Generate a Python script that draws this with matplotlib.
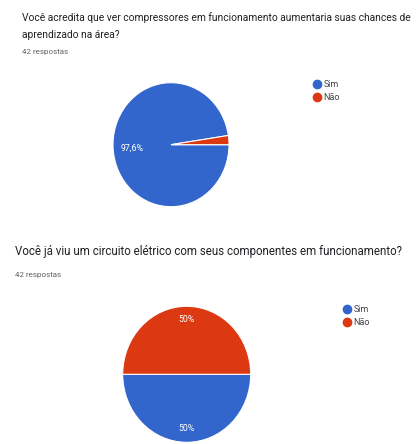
import matplotlib
matplotlib.use("Agg")
import numpy as np
import matplotlib.pyplot as plt
from matplotlib.lines import Line2D

plt.rcParams['font.family'] = ['Roboto', 'DejaVu Sans']

W, H = 420, 444
categories = ["Sim", "Não"]
colors = ["#3366cc", "#dc3912"]

q1_title = ["Você acredita que ver compressores em funcionamento aumentaria suas chances de",
            "aprendizado na área?"]
q1_counts = [41, 1]
q2_title = ["Você já viu um circuito elétrico com seus componentes em funcionamento?"]
q2_counts = [21, 21]
responses = "42 respostas"

fig = plt.figure(figsize=(W / 100, H / 100), dpi=100)
fig.patch.set_facecolor("white")
renderer = fig.canvas.get_renderer()


def px_text(x, y, s, **kw):
    return fig.text(x / W, 1 - y / H, s, va="center", ha="left", **kw)


def fit_width(t, width_px):
    # scale the font so the line spans the given width in pixels
    w = t.get_window_extent(renderer).width
    t.set_fontsize(t.get_fontsize() * width_px / w)


def px_axes(cx, cy, rx, ry):
    return fig.add_axes([(cx - rx) / W, 1 - (cy + ry) / H, 2 * rx / W, 2 * ry / H])


def pct_label(p):
    return f"{p:.1f}%".replace(".", ",").replace(",0%", "%")


def draw_pie(ax, counts, startangle, counterclock, labeldistance, hide_small=True):
    total = sum(counts)
    wedges, _ = ax.pie(counts, colors=colors, startangle=startangle,
                       counterclock=counterclock, radius=1,
                       wedgeprops=dict(linewidth=0.8, edgecolor="white"))
    for w, c in zip(wedges, counts):
        p = 100 * c / total
        if hide_small and p < 5:
            continue
        ang = np.deg2rad((w.theta1 + w.theta2) / 2)
        ax.text(labeldistance * np.cos(ang), labeldistance * np.sin(ang), pct_label(p),
                color="white", fontsize=6.3, ha="center", va="center")
    ax.set_xlim(-1, 1)
    ax.set_ylim(-1, 1)
    ax.set_aspect("auto")
    ax.axis("off")


def draw_legend(x, y):
    handles = [Line2D([], [], marker="o", linestyle="none", markersize=6,
                      markerfacecolor=c, markeredgecolor=c) for c in colors]
    fig.legend(handles, categories, loc="upper left",
               bbox_to_anchor=(x / W, 1 - y / H), frameon=False,
               fontsize=6.5, handletextpad=0.3, labelspacing=0.45,
               borderpad=0, borderaxespad=0, handlelength=1.0,
               labelcolor="#444444")


# first question
t1 = px_text(22, 18, q1_title[0], fontsize=7.5, color="#202124")
fit_width(t1, 391)
t1b = px_text(22, 35, q1_title[1], fontsize=t1.get_fontsize(), color="#202124")
px_text(22, 52, responses, fontsize=5.8, color="#5f6368")
ax1 = px_axes(171, 144.7, 58, 62)
draw_pie(ax1, q1_counts, startangle=0, counterclock=False, labeldistance=0.68)
draw_legend(312, 80)

# second question
t2 = px_text(15, 251, q2_title[0], fontsize=7.5, color="#202124")
fit_width(t2, 389)
px_text(15, 275, responses, fontsize=5.8, color="#5f6368")
ax2 = px_axes(186.7, 374.3, 64, 68)
draw_pie(ax2, q2_counts, startangle=180, counterclock=True, labeldistance=0.8)
draw_legend(342, 305)

fig.savefig("out.png", dpi=100, facecolor="white")
